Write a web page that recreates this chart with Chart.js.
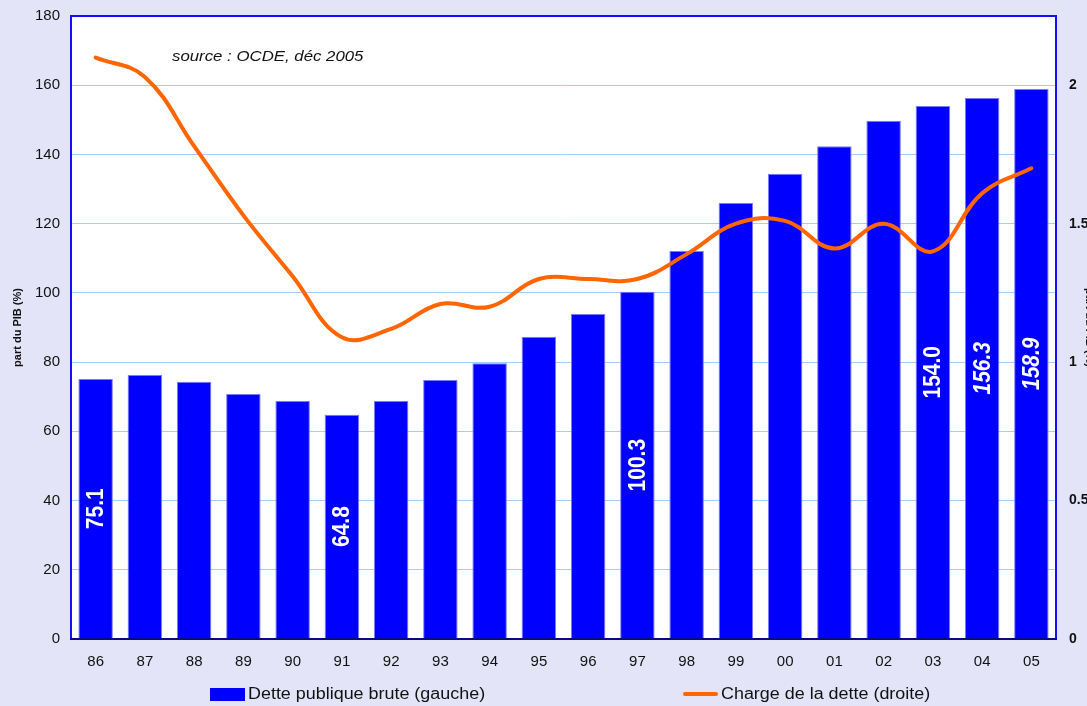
<!DOCTYPE html>
<html>
<head>
<meta charset="utf-8">
<script src="https://cdn.jsdelivr.net/npm/chart.js@4/dist/chart.umd.min.js"></script>
<style>
    html, body { margin: 0; padding: 0; background: #e4e4f8; overflow: hidden; }
    canvas { display: block; }
</style>
</head>
<body>
<canvas id="graficoDette" width="1100" height="706"></canvas>
<script>
// annees (axe des x)
var annees = ['86', '87', '88', '89', '90', '91', '92', '93', '94', '95',
              '96', '97', '98', '99', '00', '01', '02', '03', '04', '05'];

// dette publique brute, % du PIB (axe gauche)
var detteBrute = [75.1, 76.3, 74.3, 70.8, 68.8, 64.8, 68.8, 74.8, 79.7, 87.3,
                  93.9, 100.3, 112.1, 126.0, 134.4, 142.4, 149.7, 154.0, 156.3, 158.9];

// charge de la dette, % du PIB (axe droit)
var chargeDette = [2.10, 2.03, 1.78, 1.53, 1.31, 1.09, 1.12, 1.21, 1.20, 1.30,
                   1.30, 1.30, 1.39, 1.50, 1.51, 1.41, 1.50, 1.40, 1.61, 1.70];

// ticks
var ticksGauche = [0, 20, 40, 60, 80, 100, 120, 140, 160, 180];
var ticksDroite = [0, 0.5, 1, 1.5, 2];

// barres avec etiquette
var anneesEtiquette = ['86', '91', '97', '03', '04', '05'];
var anneesItalique = ['04', '05'];

var police = 'Arial, "Liberation Sans", sans-serif';
var etirement = 1.12; // le texte de l'original est un peu etire en largeur

(function () {

    function texteEtire(ctx, texte, x, y) {
        ctx.save();
        ctx.translate(x, y);
        ctx.scale(etirement, 1);
        ctx.fillText(texte, 0, 0);
        ctx.restore();
    }

    // cadre du graphique + texte de source + legende
    var pluginDecor = {
        id: 'decor',
        beforeDraw: function (chart) {
            var ctx = chart.ctx, a = chart.chartArea;
            ctx.save();
            ctx.fillStyle = '#ffffff';
            ctx.fillRect(a.left, a.top, a.right - a.left, a.bottom - a.top);
            ctx.restore();
        },
        afterDatasetsDraw: function (chart) {
            var ctx = chart.ctx;
            var meta = chart.getDatasetMeta(0);

            // etiquettes dans les barres
            ctx.save();
            ctx.fillStyle = '#ffffff';
            ctx.textAlign = 'center';
            ctx.textBaseline = 'middle';
            meta.data.forEach(function (bar, i) {
                var an = annees[i];
                if (anneesEtiquette.indexOf(an) < 0) return;
                var italic = anneesItalique.indexOf(an) > -1 ? 'italic ' : '';
                ctx.save();
                ctx.translate(bar.x, (bar.y + bar.base) / 2);
                ctx.scale(etirement, 1);
                ctx.rotate(-Math.PI / 2);
                ctx.font = italic + 'bold 21px ' + police;
                ctx.fillText(detteBrute[i].toFixed(1), 0, 1);
                ctx.restore();
            });
            ctx.restore();
        },
        afterDraw: function (chart) {
            var ctx = chart.ctx, a = chart.chartArea;
            ctx.save();
            // cadre bleu
            ctx.strokeStyle = '#1010ff';
            ctx.lineWidth = 2;
            ctx.beginPath();
            ctx.moveTo(a.left, a.bottom);
            ctx.lineTo(a.left, a.top);
            ctx.lineTo(a.right, a.top);
            ctx.lineTo(a.right, a.bottom);
            ctx.stroke();
            // axe du bas
            ctx.strokeStyle = '#0a0a80';
            ctx.beginPath();
            ctx.moveTo(a.left - 1, a.bottom);
            ctx.lineTo(a.right + 1, a.bottom);
            ctx.stroke();

            // source
            ctx.fillStyle = '#111111';
            ctx.font = 'italic 15px ' + police;
            ctx.textAlign = 'left';
            ctx.textBaseline = 'middle';
            texteEtire(ctx, 'source : OCDE, déc 2005', a.left + 101, a.top + 41);

            // legende
            var yLeg = 694;
            ctx.font = '16px ' + police;
            ctx.fillStyle = '#0000ff';
            ctx.fillRect(210, yLeg - 6, 35, 13);
            ctx.fillStyle = '#111111';
            texteEtire(ctx, 'Dette publique brute (gauche)', 248, yLeg + 1);
            ctx.strokeStyle = '#ff6600';
            ctx.lineWidth = 4;
            ctx.lineCap = 'round';
            ctx.beginPath();
            ctx.moveTo(685, yLeg);
            ctx.lineTo(716, yLeg);
            ctx.stroke();
            texteEtire(ctx, 'Charge de la dette (droite)', 721, yLeg + 1);
            ctx.restore();
        }
    };

    function gerarGrafico() {
        var canvas = document.getElementById('graficoDette');
        var ctx = canvas.getContext('2d');

        new Chart(ctx, {
            type: 'bar',
            data: {
                labels: annees,
                datasets: [
                    {
                        type: 'bar',
                        label: 'Dette publique brute (gauche)',
                        data: detteBrute,
                        backgroundColor: '#0000ff',
                        borderColor: '#7a7aff',
                        borderWidth: 1,
                        categoryPercentage: 1,
                        barPercentage: 0.7,
                        yAxisID: 'y',
                        order: 1
                    },
                    {
                        type: 'line',
                        label: 'Charge de la dette (droite)',
                        data: chargeDette,
                        borderColor: '#ff6600',
                        backgroundColor: '#ff6600',
                        borderWidth: 4,
                        pointRadius: 0,
                        tension: 0.4,
                        borderCapStyle: 'round',
                        yAxisID: 'y1',
                        order: 0
                    }
                ]
            },
            options: {
                responsive: false,
                animation: false,
                layout: { padding: { top: 16, left: 0, right: 0, bottom: 0 } },
                plugins: {
                    legend: { display: false },
                    tooltip: { enabled: false }
                },
                scales: {
                    x: {
                        grid: { display: false, drawTicks: false },
                        border: { display: false },
                        ticks: {
                            color: '#111111',
                            font: { family: police, size: 15 },
                            padding: 14,
                            maxRotation: 0
                        },
                        afterFit: function (scale) { scale.height = 67; }
                    },
                    y: {
                        position: 'left',
                        min: 0,
                        max: 180,
                        afterBuildTicks: function (scale) {
                            scale.ticks = ticksGauche.map(function (v) { return { value: v }; });
                        },
                        grid: { color: '#a9cdf2', lineWidth: 1, drawTicks: false },
                        border: { display: false },
                        ticks: {
                            color: '#111111',
                            font: { family: police, size: 15 },
                            padding: 11
                        },
                        title: {
                            display: true,
                            text: 'part du PIB (%)',
                            color: '#111111',
                            font: { family: police, size: 11, weight: 'bold' },
                            padding: { top: 11, bottom: 0 }
                        },
                        afterFit: function (scale) {
                            scale.width = 71;
                            scale.paddingTop = 0;
                            scale.paddingBottom = 0;
                        }
                    },
                    y1: {
                        position: 'right',
                        min: 0,
                        max: 2.25,
                        afterBuildTicks: function (scale) {
                            scale.ticks = ticksDroite.map(function (v) { return { value: v }; });
                        },
                        grid: { display: false, drawTicks: false },
                        border: { display: false },
                        ticks: {
                            color: '#111111',
                            font: { family: police, size: 14, weight: 'bold' },
                            padding: 13,
                            callback: function (v) { return String(v); }
                        },
                        title: {
                            display: true,
                            text: 'part du PIB (%)',
                            color: '#111111',
                            font: { family: police, size: 11, weight: 'bold' },
                            padding: { top: 4, bottom: 0 }
                        },
                        afterFit: function (scale) {
                            scale.width = 44;
                            scale.paddingTop = 0;
                            scale.paddingBottom = 0;
                        }
                    }
                }
            },
            plugins: [pluginDecor]
        });
    }

    gerarGrafico();

})();
</script>
</body>
</html>
